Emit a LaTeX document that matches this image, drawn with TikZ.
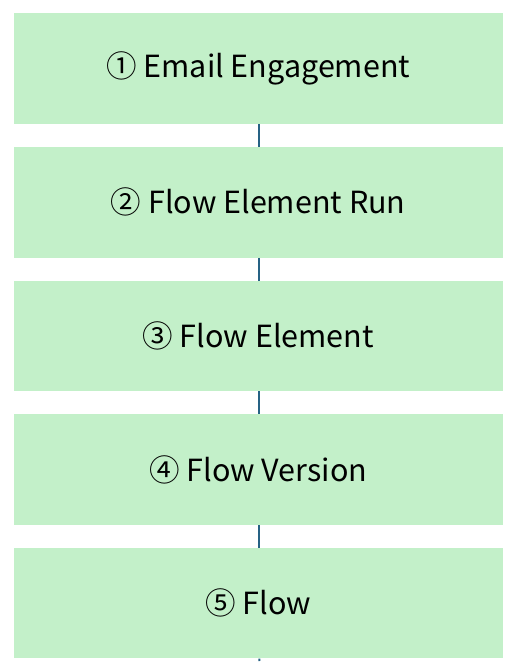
\documentclass[tikz,border=0pt]{standalone}
\usepackage{fontspec}
\setmainfont{Noto Sans CJK JP}
\usetikzlibrary{positioning}
\definecolor{boxgreen}{RGB}{195,240,201}
\definecolor{linkblue}{RGB}{38,98,132}
\tikzset{stage/.style = {fill=boxgreen, draw=none, minimum width=488.5pt,
                         minimum height=110.5pt, inner sep=0, font=\fontsize{30.5}{34}\selectfont}}
\tikzset{link/.style = {draw=linkblue, line width=2pt}}

\begin{document}
\begin{tikzpicture}[x=1pt, y=-1pt]
      \useasboundingbox (0, 0) rectangle (517, 670);

      \node [stage] (engage)  at (258.25, 68.5)  {① Email Engagement};
      \node [stage] (run)     at (258.25, 202.3) {② Flow Element Run};
      \node [stage] (element) at (258.25, 336)   {③ Flow Element};
      \node [stage] (version) at (258.25, 469.6) {④ Flow Version};
      \node [stage] (flow)    at (258.25, 603.2) {⑤ Flow};

      \coordinate (tail) at (259.3, 661);

      \draw [link] ([xshift=1pt]engage.south) -- ([xshift=1pt]run.north);
      \draw [link] ([xshift=1pt]run.south) -- ([xshift=1pt]element.north);
      \draw [link] ([xshift=1pt]element.south) -- ([xshift=1pt]version.north);
      \draw [link] ([xshift=1pt]version.south) -- ([xshift=1pt]flow.north);
      \draw [link] ([xshift=1pt]flow.south) -- (tail);
    \end{tikzpicture}
\end{document}
